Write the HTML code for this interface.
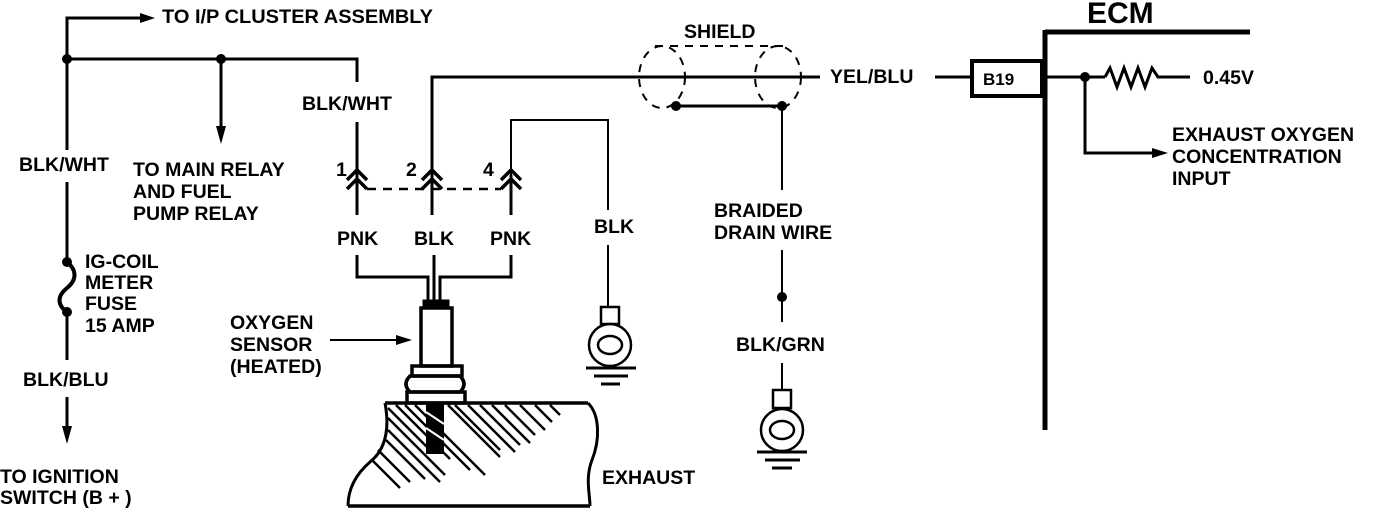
<!DOCTYPE html>
<html><head><meta charset="utf-8"><style>
html,body{margin:0;padding:0;background:#fff;}
svg{display:block}
text{font-family:"Liberation Sans",sans-serif;font-weight:bold;font-size:19.5px;fill:#000}
</style></head><body>
<svg width="1376" height="510" viewBox="0 0 1376 510" xmlns="http://www.w3.org/2000/svg">
<g stroke="#000" stroke-width="3" fill="none">
<!-- left branch -->
<polyline points="150,18 67,18 67,150"/>
<polyline points="67,182 67,262"/>
<path d="M67,262 C77,270 77,280 67,288 C57,296 57,305 67,312" stroke-width="4"/>
<line x1="67" y1="312" x2="67" y2="360"/>
<line x1="67" y1="397" x2="67" y2="430"/>
<polyline points="67,59 357,59 357,82"/>
<line x1="221" y1="59" x2="221" y2="130"/>
<line x1="357" y1="122" x2="357" y2="190"/>
<!-- wire 2 -->
<polyline points="432,190 432,77 820,77"/>
<line x1="935" y1="77" x2="972" y2="77"/>
<!-- wire 4 -->
<polyline points="511,190 511,120 608,120 608,210" stroke-width="2"/>
<line x1="608" y1="245" x2="608" y2="306" stroke-width="2"/>
<!-- connector lower -->
<line x1="357" y1="175" x2="357" y2="215"/>
<line x1="432" y1="175" x2="432" y2="215"/>
<line x1="511" y1="175" x2="511" y2="215"/>
<polyline points="357,255 357,277 428,277 428,302"/>
<line x1="434" y1="255" x2="434" y2="302"/>
<polyline points="511,255 511,277 440,277 440,302"/>
</g>
<!-- chevrons -->
<g stroke="#000" stroke-width="3.5" fill="none">
<polyline points="347,180 357,170 367,180"/><polyline points="347,189 357,179 367,189"/>
<polyline points="422,180 432,170 442,180"/><polyline points="422,189 432,179 442,189"/>
<polyline points="501,180 511,170 521,180"/><polyline points="501,189 511,179 521,189"/>
</g>
<line x1="367" y1="189" x2="501" y2="189" stroke="#000" stroke-width="2.5" stroke-dasharray="9,7"/>
<!-- arrows -->
<g fill="#000">
<polygon points="155,18 140,13 140,23"/>
<polygon points="221,144 216,126 226,126"/>
<polygon points="67,444 62,426 72,426"/>
<polygon points="412,340 396,335 396,345"/>
<polygon points="1168,153 1152,148 1152,158"/>
<circle cx="67" cy="59" r="5"/><circle cx="221" cy="59" r="5"/>
<circle cx="67" cy="262" r="5"/><circle cx="67" cy="312" r="5"/>
<circle cx="676" cy="106" r="5"/><circle cx="782" cy="106" r="5"/>
<circle cx="782" cy="297" r="5"/><circle cx="1085" cy="77" r="5"/>
</g>
<line x1="330" y1="340" x2="400" y2="340" stroke="#000" stroke-width="2"/>
<!-- shield -->
<g stroke="#000" stroke-width="2" fill="none" stroke-dasharray="8,7">
<ellipse cx="662" cy="77" rx="23" ry="31"/>
<ellipse cx="778" cy="77" rx="23" ry="31"/>
<line x1="655" y1="46" x2="790" y2="46"/>
</g>
<g stroke="#000" stroke-width="3" fill="none">
<line x1="676" y1="106" x2="782" y2="106"/>
<line x1="782" y1="106" x2="782" y2="190" stroke-width="2"/>
<line x1="782" y1="250" x2="782" y2="322" stroke-width="2"/>
<line x1="782" y1="363" x2="782" y2="390" stroke-width="2"/>
<!-- ECM -->
<rect x="972" y="61" width="70" height="35" stroke-width="4"/>
<line x1="1045" y1="30" x2="1045" y2="430" stroke-width="5"/>
<line x1="1045" y1="32" x2="1250" y2="32" stroke-width="5"/>
<line x1="1045" y1="77" x2="1105" y2="77"/>
<polyline points="1105,77 1110,68 1117,87 1124,68 1131,87 1138,68 1145,87 1152,68 1158,77 1190,77"/>
<polyline points="1085,77 1085,153 1155,153"/>
<!-- grounds -->
<rect x="601" y="307" width="18" height="17" stroke-width="2.5"/>
<circle cx="610" cy="345" r="21" stroke-width="2.5"/>
<ellipse cx="610" cy="345" rx="12" ry="9" stroke-width="2.5"/>
<line x1="586" y1="368" x2="636" y2="368"/>
<line x1="594" y1="376" x2="628" y2="376"/>
<line x1="601" y1="384" x2="620" y2="384"/>
<rect x="773" y="390" width="18" height="18" stroke-width="2.5"/>
<circle cx="782" cy="430" r="21" stroke-width="2.5"/>
<ellipse cx="782" cy="430" rx="12" ry="9" stroke-width="2.5"/>
<line x1="757" y1="452" x2="807" y2="452"/>
<line x1="765" y1="460" x2="800" y2="460"/>
<line x1="772" y1="468" x2="792" y2="468"/>
<!-- sensor -->
<rect x="421" y="308" width="31" height="58" stroke-width="3.5"/>
<rect x="424" y="301" width="24" height="7" fill="#000"/>
<rect x="412" y="366" width="50" height="10" stroke-width="3.5"/>
<path d="M410,376 L460,376 Q468,384 460,392 L410,392 Q402,384 410,376Z" stroke-width="3.5"/>
<rect x="407" y="392" width="58" height="11" stroke-width="3.5"/>
<!-- exhaust -->
<line x1="385" y1="403" x2="588" y2="403" stroke-width="3.5"/>
<path d="M588,403 C600,415 600,440 592,460 C585,478 590,495 590,506" stroke-width="3"/>
<line x1="348" y1="506" x2="590" y2="506" stroke-width="3.5"/>
<path d="M385,403 C390,430 385,450 370,462 C355,475 348,490 348,506" stroke-width="3"/>
</g>
<!-- hatching -->
<g stroke="#000" stroke-width="2.5">
<line x1="388" y1="408" x2="430" y2="450"/><line x1="396" y1="405" x2="450" y2="459"/>
<line x1="405" y1="405" x2="470" y2="470"/><line x1="415" y1="405" x2="485" y2="475"/>
<line x1="388" y1="418" x2="445" y2="475"/><line x1="388" y1="430" x2="440" y2="482"/>
<line x1="386" y1="440" x2="425" y2="479"/>
<line x1="378" y1="450" x2="410" y2="482"/><line x1="372" y1="460" x2="400" y2="488"/>
<line x1="448" y1="405" x2="500" y2="457"/>
<line x1="455" y1="405" x2="500" y2="450"/><line x1="468" y1="405" x2="515" y2="452"/>
<line x1="480" y1="405" x2="520" y2="445"/><line x1="492" y1="405" x2="530" y2="443"/>
<line x1="505" y1="405" x2="535" y2="435"/><line x1="520" y1="405" x2="545" y2="430"/>
<line x1="535" y1="405" x2="552" y2="422"/><line x1="550" y1="405" x2="560" y2="415"/>
</g>
<rect x="426" y="404" width="18" height="50" fill="#000"/>
<g stroke="#fff" stroke-width="2"><line x1="426" y1="412" x2="444" y2="424"/><line x1="426" y1="428" x2="444" y2="440"/></g>
<!-- text -->
<text x="162" y="23" textLength="271" lengthAdjust="spacingAndGlyphs">TO I/P CLUSTER ASSEMBLY</text>
<text x="19" y="171">BLK/WHT</text>
<text x="302" y="110">BLK/WHT</text>
<text x="133" y="176">TO MAIN RELAY</text>
<text x="133" y="198">AND FUEL</text>
<text x="133" y="220">PUMP RELAY</text>
<text x="336" y="176">1</text><text x="406" y="176">2</text><text x="483" y="176">4</text>
<text x="337" y="245">PNK</text><text x="414" y="245">BLK</text><text x="490" y="245">PNK</text>
<text x="594" y="233">BLK</text>
<text x="85" y="268">IG-COIL</text><text x="85" y="289">METER</text><text x="85" y="310">FUSE</text><text x="85" y="332">15 AMP</text>
<text x="23" y="386">BLK/BLU</text>
<text x="0" y="483">TO IGNITION</text><text x="0" y="504">SWITCH (B + )</text>
<text x="230" y="329">OXYGEN</text><text x="230" y="351">SENSOR</text><text x="230" y="373">(HEATED)</text>
<text x="602" y="484">EXHAUST</text>
<text x="684" y="38">SHIELD</text>
<text x="830" y="83">YEL/BLU</text>
<text x="983" y="85" style="font-size:17px">B19</text>
<text x="1087" y="23" style="font-size:30px">ECM</text>
<text x="1203" y="84">0.45V</text>
<text x="1172" y="141">EXHAUST OXYGEN</text>
<text x="1172" y="163">CONCENTRATION</text>
<text x="1172" y="185">INPUT</text>
<text x="714" y="217">BRAIDED</text>
<text x="714" y="239">DRAIN WIRE</text>
<text x="736" y="351">BLK/GRN</text>
</svg>
</body></html>
